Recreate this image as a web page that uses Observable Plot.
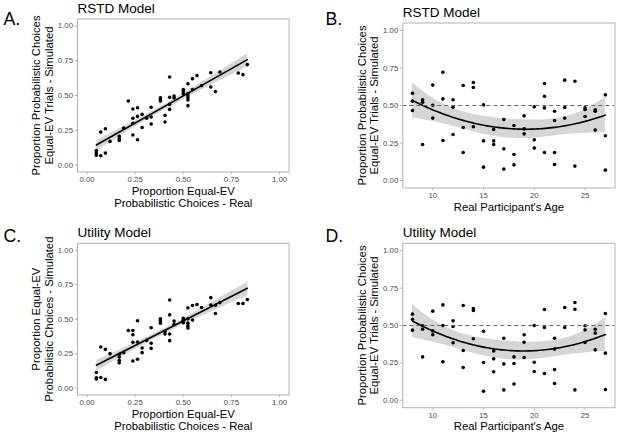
<!DOCTYPE html>
<html>
<head>
<meta charset="utf-8">
<script src="https://cdn.jsdelivr.net/npm/d3@7"></script>
<script src="https://cdn.jsdelivr.net/npm/@observablehq/plot@0.6"></script>
<style>
  html, body { margin: 0; padding: 0; background: white; }
  #wrap { position: relative; width: 617px; height: 434px; overflow: hidden; background: white; }
  .cell { position: absolute; }
</style>
</head>
<body>
<div id="wrap"></div>
<script>
// ---------- Data ----------
// Panel A: RSTD model, real vs simulated proportion
const realA = [0.048,0.048,0.048, 0.071,0.071, 0.095,0.095, 0.119, 0.167,0.167,0.167, 0.190, 0.214,
  0.238,0.238,0.238,0.238, 0.262,0.262,0.262, 0.286,0.286, 0.310, 0.333,0.333,0.333, 0.381,0.381,0.381,
  0.405,0.405, 0.429,0.429,0.429,0.429, 0.452,0.452, 0.500,0.500,0.500, 0.524,0.524,0.524,0.524,0.524,0.524,
  0.548,0.548, 0.571, 0.595, 0.643,0.643, 0.667, 0.690, 0.786, 0.810, 0.833];
const simA = [0.105,0.086,0.070, 0.067,0.237, 0.261,0.086, 0.170, 0.206,0.189,0.177, 0.266, 0.460,
  0.403,0.336,0.300,0.216, 0.412,0.350,0.182, 0.364,0.270, 0.336, 0.415,0.345,0.295, 0.484,0.472,0.460,
  0.357,0.309, 0.633,0.487,0.436,0.400, 0.496,0.482, 0.542,0.528,0.513, 0.585,0.513,0.496,0.482,0.468,0.427,
  0.542,0.621, 0.643, 0.571, 0.664,0.561, 0.528, 0.669, 0.662, 0.650, 0.722];

// Panel B: RSTD model, age vs simulated proportion
const ageB = [8,8,8, 9,9,9, 10,10,10, 11,11,11, 12,12,12, 13,13,13, 14,14,14, 15,15,15, 16,16,16,
  17,17,17, 18,18,18, 19,19,19, 20,20,20, 21,21,21,21, 22,22,22,22, 23,23,23, 24,24, 25,25,25, 26,26,26, 27,27,27];
const simB = [0.582,0.529,0.467, 0.538,0.522,0.240, 0.636,0.502,0.416, 0.722,0.544,0.267, 0.538,0.489,0.307,
  0.633,0.353,0.187, 0.653,0.620,0.358, 0.504,0.264,0.089, 0.340,0.264,0.240, 0.407,0.211,0.076,
  0.367,0.173,0.104, 0.431,0.344,0.311, 0.491,0.271,0.216, 0.647,0.562,0.484,0.187, 0.462,0.400,0.187,0.107,
  0.669,0.487,0.416, 0.662,0.096, 0.484,0.473,0.427, 0.471,0.462,0.336, 0.571,0.298,0.069];

// Panel C: Utility model, real vs simulated proportion
const realC = [0.048,0.048,0.048, 0.071,0.071, 0.095,0.095, 0.119, 0.167,0.167,0.167,0.167, 0.190, 0.214,
  0.238,0.238,0.238,0.238, 0.262,0.262,0.262, 0.286,0.286, 0.310, 0.333,0.333,0.333, 0.381,0.381,0.381,
  0.405,0.405, 0.429,0.429,0.429,0.429, 0.452,0.452, 0.500,0.500,0.500, 0.524,0.524,0.524,0.524,0.524,
  0.548,0.548, 0.571, 0.595, 0.643,0.643, 0.667,0.667, 0.690, 0.786, 0.810, 0.833];
const simC = [0.113,0.075,0.066, 0.298,0.077, 0.281,0.063, 0.250, 0.245,0.226,0.202,0.183, 0.257, 0.418,
  0.418,0.387,0.332,0.197, 0.488,0.334,0.209, 0.291,0.257, 0.346, 0.438,0.325,0.288, 0.502,0.488,0.471,
  0.411,0.392, 0.639,0.531,0.392,0.344, 0.486,0.462, 0.507,0.490,0.474, 0.582,0.502,0.471,0.452,0.435,
  0.599,0.493, 0.606, 0.584, 0.656,0.603, 0.601,0.541, 0.620, 0.613, 0.613, 0.642];

// Panel D: Utility model, age vs simulated proportion
const ageD = [8,8,8, 9,9,9, 10,10,10, 11,11,11, 12,12,12, 13,13,13, 14,14,14, 15,15,15, 16,16,16,
  17,17,17, 18,18,18, 19,19,19, 20,20,20, 21,21,21, 22,22,22,22, 23,23, 24,24,24, 25,25,25, 26,26,26, 27,27,27];
const simD = [0.576,0.542,0.469, 0.498,0.475,0.290, 0.596,0.464,0.438, 0.638,0.500,0.257, 0.531,0.493,0.384,
  0.634,0.333,0.219, 0.614,0.600,0.411, 0.462,0.252,0.060, 0.330,0.277,0.190, 0.415,0.243,0.069,
  0.290,0.246,0.109, 0.438,0.388,0.286, 0.500,0.254,0.192, 0.607,0.487,0.179, 0.415,0.342,0.205,0.112,
  0.620,0.487, 0.654,0.609,0.069, 0.498,0.471,0.386, 0.475,0.449,0.337, 0.580,0.315,0.071];

// Tick values and labels
const propTicks = [0, 0.25, 0.5, 0.75, 1];
const ageTicks = [10, 15, 20, 25];
const chanceLevel = [0.5];

const tags = ["A.", "B.", "C.", "D."];
const titles = ["RSTD Model", "RSTD Model", "Utility Model", "Utility Model"];
const xTitles = ["Proportion Equal-EV\nProbabilistic Choices - Real", "Real Participant's Age",
                 "Proportion Equal-EV\nProbabilistic Choices - Real", "Real Participant's Age"];
const yTitles = ["Proportion Probabilistic Choices\nEqual-EV Trials - Simulated",
                 "Proportion Probabilistic Choices\nEqual-EV Trials - Simulated",
                 "Proportion Equal-EV\nProbabilistic Choices - Simulated",
                 "Proportion Probabilistic Choices\nEqual-EV Trials - Simulated"];

// ---------- Quadratic least-squares fit with 95% CI (like lm(y ~ poly(x, 2))) ----------
function inv3(m) {
  const [a,b,c] = m[0], [d,e,f] = m[1], [g,h,i] = m[2];
  const A = e*i - f*h, B = -(d*i - f*g), C = d*h - e*g;
  const det = a*A + b*B + c*C;
  return [
    [A/det, -(b*i - c*h)/det, (b*f - c*e)/det],
    [B/det, (a*i - c*g)/det, -(a*f - c*d)/det],
    [C/det, -(a*h - b*g)/det, (a*e - b*d)/det]
  ];
}
function quadFit(xs, ys, tq) {
  const n = xs.length;
  const xm = d3.mean(xs);
  const X = xs.map(x => [1, x - xm, (x - xm) ** 2]);
  const XtX = [0,1,2].map(r => [0,1,2].map(c => d3.sum(X, row => row[r] * row[c])));
  const Xty = [0,1,2].map(r => d3.sum(X, (row, k) => row[r] * ys[k]));
  const Inv = inv3(XtX);
  const beta = Inv.map(row => row[0]*Xty[0] + row[1]*Xty[1] + row[2]*Xty[2]);
  const pred = v => beta[0]*v[0] + beta[1]*v[1] + beta[2]*v[2];
  const sse = d3.sum(X, (row, k) => (ys[k] - pred(row)) ** 2);
  const s2 = sse / (n - 3);
  const [lo, hi] = d3.extent(xs);
  return d3.range(0, 81).map(j => {
    const x = lo + (hi - lo) * j / 80;
    const v = [1, x - xm, (x - xm) ** 2];
    const yhat = pred(v);
    let q = 0;
    for (let r = 0; r < 3; r++) for (let c = 0; c < 3; c++) q += v[r] * Inv[r][c] * v[c];
    const se = Math.sqrt(s2 * q);
    return {x, y: yhat, lo: yhat - tq * se, hi: yhat + tq * se};
  });
}

// ---------- Panel builder ----------
const FONT = "'Liberation Sans', Arial, Helvetica, sans-serif";
const GRAY = "#b3b3b3";
const TICKTXT = "#4d4d4d";

function panel(k, xs, ys, opts) {
  const data = xs.map((x, i) => ({x, y: ys[i]}));
  const {width, height, mt, mr, mb, ml, age, tagX} = opts;
  const marks = [];
  const fit = age ? quadFit(xs, ys, 2.0) : null;
  if (age) {
    marks.push(Plot.areaY(fit, {x: "x", y1: "lo", y2: "hi", fill: "#999999", fillOpacity: 0.4}));
  } else {
    marks.push(Plot.linearRegressionY(data, {x: "x", y: "y", ci: 0.95, stroke: "none",
      fill: "#999999", fillOpacity: 0.4}));
  }
  marks.push(Plot.dot(data, {x: "x", y: "y", r: 1.8, fill: "black", stroke: "none"}));
  if (age) {
    marks.push(Plot.line(fit, {x: "x", y: "y", stroke: "black", strokeWidth: 1.6}));
    marks.push(Plot.ruleY(chanceLevel, {stroke: "#666666", strokeWidth: 1, strokeDasharray: "4,3"}));
  } else {
    marks.push(Plot.linearRegressionY(data, {x: "x", y: "y", ci: 0, stroke: "black", strokeWidth: 1.6}));
  }
  marks.push(Plot.frame({stroke: GRAY, strokeWidth: 1}));
  marks.push(Plot.axisX({ticks: age ? ageTicks : propTicks,
    tickFormat: age ? d3.format("d") : d3.format(".2f"),
    tickSize: 2.5, tickPadding: 2, fontSize: 7.8, stroke: GRAY, fill: TICKTXT, label: null}));
  marks.push(Plot.axisY({ticks: propTicks, tickFormat: d3.format(".2f"),
    tickSize: 2.5, tickPadding: 2, fontSize: 7.8, stroke: GRAY, fill: TICKTXT, label: null}));
  // x axis title
  const xLines = xTitles[k].split("\n").length;
  marks.push(Plot.text([xTitles[k]], {text: d => d, frameAnchor: "bottom", textAnchor: "middle",
    lineAnchor: "bottom", lineHeight: 1.1, dy: xLines === 2 ? 35 : 22.5, fontSize: 11.3, fill: "black"}));
  // y axis title
  marks.push(Plot.text([yTitles[k]], {text: d => d, frameAnchor: "left", textAnchor: "middle",
    lineAnchor: "bottom", lineHeight: 1.1, rotate: -90, dx: -24.6, fontSize: 11.3, fill: "black"}));
  // panel title
  marks.push(Plot.text([titles[k]], {text: d => d, frameAnchor: "top-left", textAnchor: "start",
    lineAnchor: "bottom", dy: -6, fontSize: 13.5, fill: "black"}));
  // tag
  marks.push(Plot.text([tags[k]], {text: d => d, frameAnchor: "top-left", textAnchor: "start",
    lineAnchor: "bottom", dx: tagX - ml, dy: 24 - mt, fontSize: 17.7, fill: "black"}));

  return Plot.plot({
    width, height,
    marginTop: mt, marginRight: mr, marginBottom: mb, marginLeft: ml,
    x: {domain: age ? [7.05, 27.95] : [-0.05, 1.05]},
    y: {domain: [-0.05, 1.05]},
    style: {fontFamily: FONT, background: "white", overflow: "visible"},
    marks
  });
}

const layout = [
  {left: 0,   top: 0,   xs: realA, ys: simA, o: {width: 308, height: 217, mt: 18.5, mr: 19.4, mb: 45.5, ml: 77,   age: false, tagX: 3}},
  {left: 308, top: 0,   xs: ageB,  ys: simB, o: {width: 309, height: 217, mt: 22.5, mr: 2.5,  mb: 29.5, ml: 94.3, age: true,  tagX: 17}},
  {left: 0,   top: 217, xs: realC, ys: simC, o: {width: 308, height: 217, mt: 25.8, mr: 19.4, mb: 39.5, ml: 77,   age: false, tagX: 3}},
  {left: 308, top: 217, xs: ageD,  ys: simD, o: {width: 309, height: 217, mt: 25.8, mr: 2.5,  mb: 26.8, ml: 94.3, age: true,  tagX: 17}}
];

const wrap = document.getElementById("wrap");
layout.forEach((p, k) => {
  const cell = document.createElement("div");
  cell.className = "cell";
  cell.style.left = p.left + "px";
  cell.style.top = p.top + "px";
  cell.appendChild(panel(k, p.xs, p.ys, p.o));
  wrap.appendChild(cell);
});
</script>
</body>
</html>
